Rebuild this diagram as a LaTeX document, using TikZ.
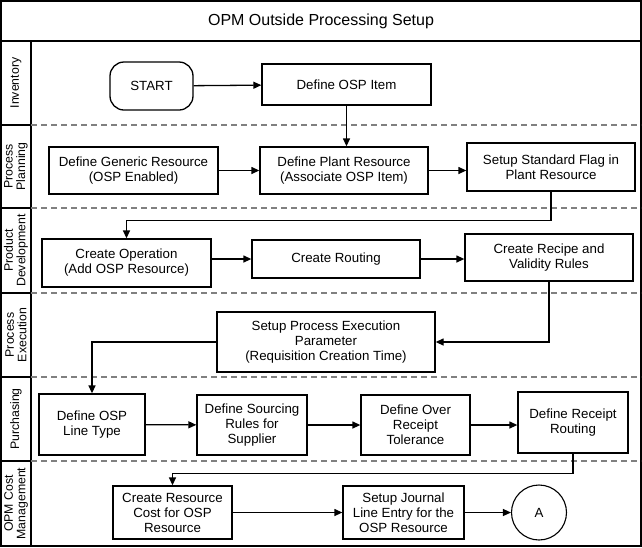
\documentclass[tikz,border=0pt]{standalone}
\usepackage{fontspec}
\setmainfont{Liberation Sans}
\usepackage{tikz}
\usetikzlibrary{arrows.meta,positioning,calc,shapes}

\begin{document}
\begin{tikzpicture}[x=1pt,y=-1pt,
    box/.style={draw, line width=1.3pt, align=center, inner sep=2pt,
      font=\fontsize{13.3}{15}\selectfont},
    flow/.style={line width=1.3pt, -{Triangle[length=8pt,width=7pt]}},
    lane/.style={rotate=90, align=center, font=\fontsize{12.3}{12.5}\selectfont},
    divider/.style={gray, line width=1.3pt, dash pattern=on 6pt off 4pt}]

    \useasboundingbox (0,0) rectangle (642,547);

    % frame, title and lane column
    \draw[line width=2pt] (1,1) rectangle (641,546);
    \draw[line width=2pt] (1,41) -- (641,41);
    \draw[line width=1.3pt] (31,41) -- (31,546);
    \node[font=\fontsize{16}{18}\selectfont] (title) at (321,21) {OPM Outside Processing Setup};

    % lanes
    \foreach \y in {125,208,293,377,461} {
      \draw[line width=1.3pt] (1,\y) -- (31,\y);
      \draw[divider] (31,\y) -- (641,\y);
    }
    \node[lane] (l1) at (16,83) {Inventory};
    \node[lane] (l2) at (16,166.5) {Process\\Planning};
    \node[lane] (l3) at (16,250.5) {Product\\Development};
    \node[lane] (l4) at (16,335) {Process\\Execution};
    \node[lane] (l5) at (16,419) {Purchasing};
    \node[lane] (l6) at (16,503.5) {OPM Cost\\Management};

    % Inventory
    \node[box, rounded corners=14pt, minimum width=83pt, minimum height=48pt] (start) at (151.5,86) {START};
    \node[box, minimum width=169pt, minimum height=41pt] (ospitem) at (346.5,84.5) {Define OSP Item};

    % Process Planning
    \node[box, minimum width=169pt, minimum height=47pt] (generic) at (133.5,170.5) {Define Generic Resource\\(OSP Enabled)};
    \node[box, minimum width=168pt, minimum height=47pt] (plant) at (344,170.5) {Define Plant Resource\\(Associate OSP Item)};
    \node[box, minimum width=168pt, minimum height=48pt] (flag) at (551,167) {Setup Standard Flag in\\Plant Resource};

    % Product Development
    \node[box, minimum width=169pt, minimum height=48pt] (operation) at (126.5,263) {Create Operation\\(Add OSP Resource)};
    \node[box, minimum width=168pt, minimum height=38pt] (routing) at (336,259) {Create Routing};
    \node[box, minimum width=168pt, minimum height=47pt] (recipe) at (549,257.5) {Create Recipe and\\Validity Rules};

    % Process Execution
    \node[box, minimum width=218pt, minimum height=60pt] (execparam) at (326,342) {Setup Process Execution\\Parameter\\(Requisition Creation Time)};

    % Purchasing
    \node[box, minimum width=106pt, minimum height=61pt] (linetype) at (92,424.5) {Define OSP\\Line Type};
    \node[box, minimum width=110pt, minimum height=60pt] (sourcing) at (252,425) {Define Sourcing\\Rules for\\Supplier};
    \node[box, minimum width=109pt, minimum height=60pt] (tolerance) at (415.5,425) {Define Over\\Receipt\\Tolerance};
    \node[box, minimum width=110pt, minimum height=61pt] (receipt) at (573,422.5) {Define Receipt\\Routing};

    % OPM Cost Management
    \node[box, minimum width=119pt, minimum height=53pt] (rescost) at (172.5,512.5) {Create Resource\\Cost for OSP\\Resource};
    \node[box, minimum width=121pt, minimum height=53pt] (journal) at (403.5,512.5) {Setup Journal\\Line Entry for the\\OSP Resource};
    \node[box, circle, line width=1.1pt, minimum size=55pt, inner sep=0pt] (conna) at (539,512.5) {A};

    % connectors
    \draw[flow] (start) -- (ospitem);
    \draw[flow] (ospitem.south) -- (ospitem.south |- plant.north);
    \draw[flow] (generic) -- (plant);
    \draw[flow] (plant) -- (plant.east -| flag.west);
    \draw[flow] (flag.south) -- ++(0,29) -| (operation.north);
    \draw[flow] (operation.east |- routing) -- (routing);
    \draw[flow] (routing) -- (routing -| recipe.west);
    \draw[flow] (recipe.south) |- (execparam.east);
    \draw[flow] (execparam.west) -| (linetype.north);
    \draw[flow] (linetype) -- (sourcing);
    \draw[flow] (sourcing) -- (tolerance);
    \draw[flow] (tolerance) -- (tolerance -| receipt.west);
    \draw[flow] (receipt.south) -- ++(0,20) -| (rescost.north);
    \draw[flow] (rescost) -- (journal);
    \draw[flow] (journal) -- (conna);
  \end{tikzpicture}
\end{document}
